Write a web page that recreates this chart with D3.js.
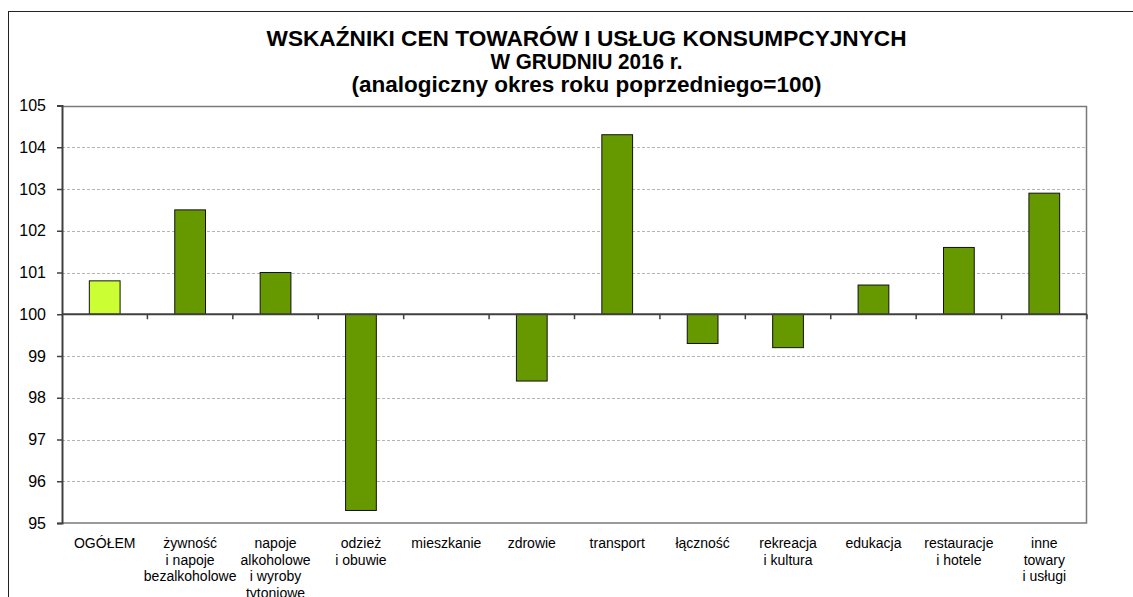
<!DOCTYPE html>
<html>
<head>
<meta charset="utf-8">
<script src="https://cdn.jsdelivr.net/npm/d3@7"></script>
<style>
  body { margin: 0; background: #fff; }
  svg { display: block; font-family: "Liberation Sans", Arial, sans-serif; }
</style>
</head>
<body>
<div id="chart"></div>
<script>
// categories (multi-line labels split on \n)
const categories = [
    "OGÓŁEM",
    "żywność\ni napoje\nbezalkoholowe",
    "napoje\nalkoholowe\ni wyroby\ntytoniowe",
    "odzież\ni obuwie",
    "mieszkanie",
    "zdrowie",
    "transport",
    "łączność",
    "rekreacja\ni kultura",
    "edukacja",
    "restauracje\ni hotele",
    "inne\ntowary\ni usługi"
];
const values = [100.8, 102.5, 101.0, 95.3, 100.0, 98.4, 104.3, 99.3, 99.2, 100.7, 101.6, 102.9];
const yTicks = [95, 96, 97, 98, 99, 100, 101, 102, 103, 104, 105];
const titleLines = [
    "WSKAŹNIKI CEN TOWARÓW I USŁUG KONSUMPCYJNYCH",
    "W GRUDNIU 2016 r.",
    "(analogiczny okres roku poprzedniego=100)"
];

const width = 1133, height = 597;
const plot = {left: 62, right: 1087, top: 105.5, bottom: 523};

const svg = d3.select("#chart")
    .append("svg")
    .attr("width", width)
    .attr("height", height);

// outer chart frame
svg.append("rect")
    .attr("x", 8.5).attr("y", 11.5)
    .attr("width", width + 10).attr("height", height + 10)
    .attr("fill", "none")
    .attr("stroke", "#222")
    .attr("stroke-width", 1);

// title
const titleWidths = [640, 192, 470];
svg.append("g")
    .selectAll("text")
    .data(titleLines)
    .enter()
    .append("text")
    .attr("x", 586.5)
    .attr("y", (d, i) => 46 + i * 23)
    .attr("text-anchor", "middle")
    .attr("font-size", "22px")
    .attr("font-weight", "bold")
    .attr("fill", "#000")
    .attr("textLength", (d, i) => titleWidths[i])
    .attr("lengthAdjust", "spacingAndGlyphs")
    .text(d => d);

const x = d3.scaleBand()
    .domain(categories)
    .range([plot.left, plot.right])
    .paddingInner(0.64)
    .paddingOuter(0.32);

const y = d3.scaleLinear()
    .domain([95, 105])
    .range([plot.bottom, plot.top]);

// gridlines
svg.append("g")
    .selectAll("line")
    .data(yTicks.filter(t => t !== 100 && t !== 95 && t !== 105))
    .enter()
    .append("line")
    .attr("x1", plot.left).attr("x2", plot.right)
    .attr("y1", d => Math.round(y(d)) + 0.5)
    .attr("y2", d => Math.round(y(d)) + 0.5)
    .attr("stroke", "#b4b4b4")
    .attr("stroke-dasharray", "3,2");

// plot frame (top, right, bottom)
svg.append("path")
    .attr("d", `M${plot.left},${Math.round(plot.top) + 0.5}H${plot.right - 0.5}V${plot.bottom}H${plot.left}`)
    .attr("fill", "none")
    .attr("stroke", "#7a7a7a")
    .attr("stroke-width", 1.5);

// bars
svg.append("g")
    .selectAll("rect")
    .data(values)
    .enter()
    .append("rect")
    .attr("x", (d, i) => x(categories[i]))
    .attr("width", x.bandwidth())
    .attr("y", d => y(Math.max(d, 100)))
    .attr("height", d => Math.abs(y(d) - y(100)))
    .attr("fill", (d, i) => i === 0 ? "#ccff33" : "#669900")
    .attr("stroke", d => d === 100 ? "none" : "#111")
    .attr("stroke-width", 1);

// y axis
const yAxis = svg.append("g")
    .attr("transform", `translate(${plot.left},0)`)
    .call(d3.axisLeft(y).tickValues(yTicks).tickSize(5).tickPadding(11).tickFormat(d3.format("d")));
yAxis.select(".domain").attr("stroke", "#404040").attr("stroke-width", 2);
yAxis.selectAll(".tick line").attr("stroke", "#404040").attr("stroke-width", 1.5);
yAxis.selectAll(".tick text")
    .attr("font-family", "Liberation Sans, Arial, sans-serif")
    .attr("font-size", "16px")
    .attr("fill", "#000");

// category axis on the 100 line
const bounds = d3.range(1, categories.length + 1).map(i => plot.left + i * (plot.right - plot.left) / categories.length);
svg.append("line")
    .attr("x1", plot.left).attr("x2", plot.right)
    .attr("y1", y(100)).attr("y2", y(100))
    .attr("stroke", "#404040")
    .attr("stroke-width", 2);
svg.append("g")
    .selectAll("line")
    .data(bounds)
    .enter()
    .append("line")
    .attr("x1", d => d).attr("x2", d => d)
    .attr("y1", y(100)).attr("y2", y(100) + 5)
    .attr("stroke", "#404040")
    .attr("stroke-width", 1.5);

// category labels below the plot
const labels = svg.append("g")
    .selectAll("text")
    .data(categories)
    .enter()
    .append("text")
    .attr("text-anchor", "middle")
    .attr("font-size", "14px")
    .attr("fill", "#000")
    .attr("transform", d => `translate(${x(d) + x.bandwidth() / 2},${plot.bottom + 25})`);
labels.selectAll("tspan")
    .data(d => d.split("\n"))
    .enter()
    .append("tspan")
    .attr("x", 0)
    .attr("dy", (d, i) => i === 0 ? 0 : 16.5)
    .text(d => d);
</script>
</body>
</html>
